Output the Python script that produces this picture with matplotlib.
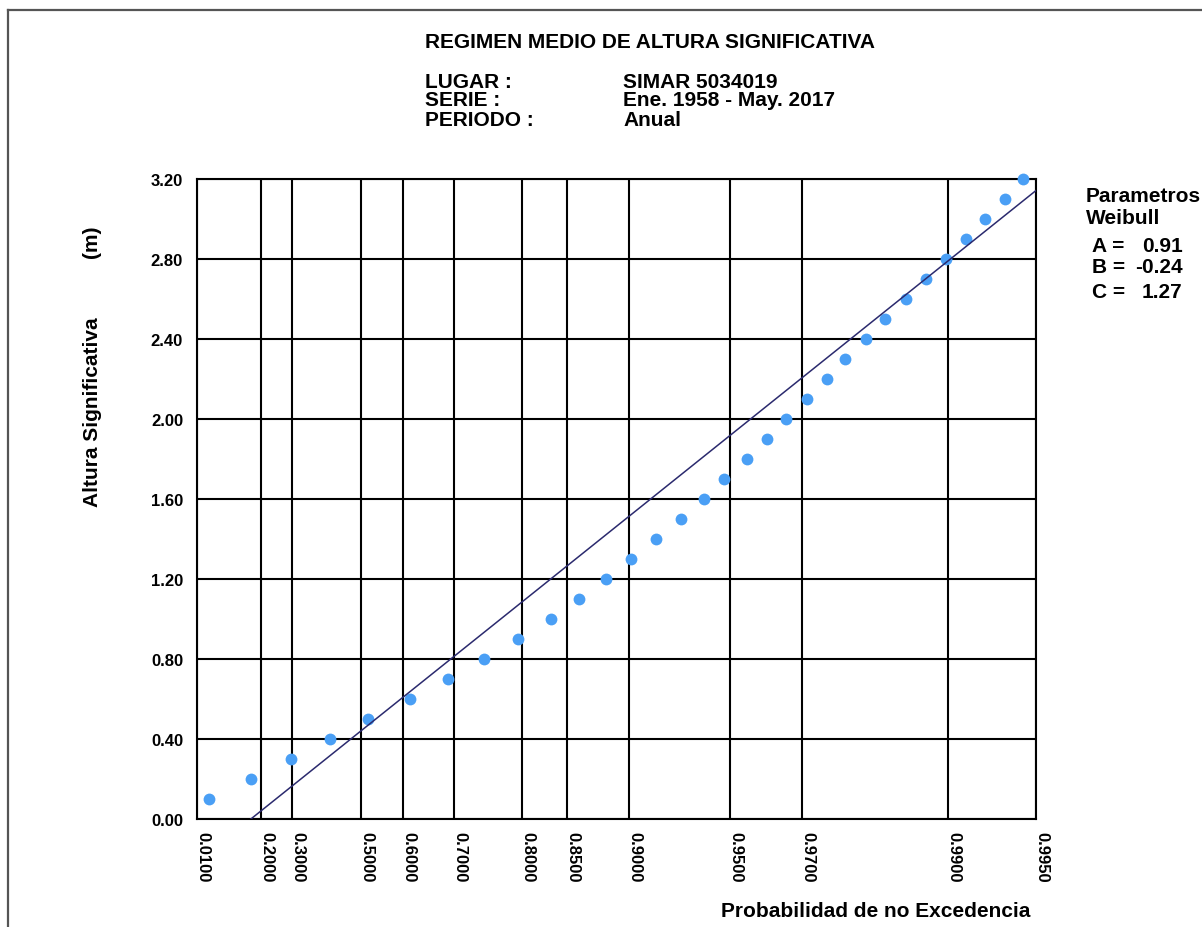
import numpy as np
import matplotlib
matplotlib.use('Agg')
import matplotlib.pyplot as plt
import matplotlib.transforms as mtransforms
from matplotlib.lines import Line2D
from matplotlib.ticker import NullLocator

plt.rcParams['font.family'] = ['Liberation Sans', 'DejaVu Sans']
plt.rcParams['font.weight'] = 'bold'

# Weibull parameters (shown at right of the chart)
A = 0.91
B = -0.24
C = 1.27

# empirical points: significant wave height vs non-exceedance probability
hs = [0.1, 0.2, 0.3, 0.4, 0.5, 0.6, 0.7, 0.8, 0.9, 1.0, 1.1, 1.2, 1.3, 1.4, 1.5, 1.6,
      1.7, 1.8, 1.9, 2.0, 2.1, 2.2, 2.3, 2.4, 2.5, 2.6, 2.7, 2.8, 2.9, 3.0, 3.1, 3.2]
prob = [0.039, 0.170, 0.297, 0.415, 0.517, 0.614, 0.689, 0.749, 0.796, 0.834, 0.861,
        0.883, 0.9008, 0.9166, 0.9296, 0.9397, 0.9478, 0.9555, 0.9615, 0.9665, 0.9711,
        0.9751, 0.9783, 0.9814, 0.9839, 0.9862, 0.9882, 0.9899, 0.9913, 0.9925, 0.9936,
        0.99445]

xticks = [0.01, 0.2, 0.3, 0.5, 0.6, 0.7, 0.8, 0.85, 0.9, 0.95, 0.97, 0.99, 0.995]
yticks = [0.0, 0.4, 0.8, 1.2, 1.6, 2.0, 2.4, 2.8, 3.2]

W, H = 1202, 928


def fwd(p):
    p = np.clip(np.asarray(p, dtype=float), 1e-9, 1 - 1e-9)
    return (-np.log(1 - p)) ** (1 / C)


def inv(x):
    x = np.clip(np.asarray(x, dtype=float), 0, None)
    return 1 - np.exp(-x ** C)


def px(x, y):  # pixel -> figure coords
    return x / W, 1 - y / H


fig = plt.figure(figsize=(W / 100, H / 100), dpi=100)
ax = fig.add_axes([197 / W, 1 - 820 / H, (1036 - 197) / W, (820 - 180) / H])

ax.set_xscale('function', functions=(fwd, inv))
ax.set_xlim(0.01, 0.995)
ax.set_ylim(0, 3.2)

pp = np.linspace(0.01, 0.995, 500)
ax.plot(pp, B + A * fwd(pp), color='#2b2a6e', lw=1.1, zorder=4)
ax.plot(prob, hs, 'o', color='#4a9ff5', ms=8.5, mec='none', zorder=3, clip_on=False)

ax.set_xticks(xticks)
ax.set_xticklabels(['%.4f' % t for t in xticks], rotation=270, ha='center', va='top')
ax.xaxis.set_minor_locator(NullLocator())
ax.set_yticks(yticks)
ax.set_yticklabels(['%.2f' % t for t in yticks])
ax.tick_params(axis='x', length=0, pad=9, labelsize=12, colors='black')
ax.tick_params(axis='y', length=0, pad=10, labelsize=12, colors='black')
offset = mtransforms.ScaledTranslation(6 / 100, 0, fig.dpi_scale_trans)
for lab in ax.get_xticklabels():
    lab.set_transform(lab.get_transform() + offset)

ax.grid(True, color='black', lw=1.5)
ax.set_axisbelow(True)
for s in ax.spines.values():
    s.set_color('black')
    s.set_linewidth(1.5)

# header texts
fig.text(*px(425, 42), 'REGIMEN MEDIO DE ALTURA SIGNIFICATIVA', fontsize=15, va='center')
rows = [('LUGAR :', 'SIMAR 5034019', 83),
        ('SERIE :', 'Ene. 1958 - May. 2017', 100),
        ('PERIODO :', 'Anual', 121)]
for lab, val, y in rows:
    fig.text(*px(425, y), lab, fontsize=15, va='center')
    fig.text(*px(623, y), val, fontsize=15, va='center')

# axis titles
fig.text(*px(92, 412), 'Altura Significativa', fontsize=15, rotation=90,
         ha='center', va='center')
fig.text(*px(92, 242), '(m)', fontsize=15, rotation=90, ha='center', va='center')
fig.text(*px(876, 912), 'Probabilidad de no Excedencia', fontsize=15,
         ha='center', va='center')

# parameter box
fig.text(*px(1086, 197), 'Parametros', fontsize=15, va='center')
fig.text(*px(1086, 219), 'Weibull', fontsize=15, va='center')
for name, val, y in [('A', A, 246), ('B', B, 268), ('C', C, 293)]:
    fig.text(*px(1092, y), name + ' =', fontsize=15, va='center')
    fig.text(*px(1142 - (7 if val < 0 else 0), y), '%.2f' % val, fontsize=15, va='center')

# page frame
fig.add_artist(Line2D([7.5 / W, 7.5 / W], [0, 1 - 11 / H], color='#555555', lw=1.6,
                      transform=fig.transFigure))
fig.add_artist(Line2D([7.5 / W, 1], [1 - 11 / H, 1 - 11 / H], color='#555555', lw=1.6,
                      transform=fig.transFigure))

fig.savefig('out.png', dpi=100)
